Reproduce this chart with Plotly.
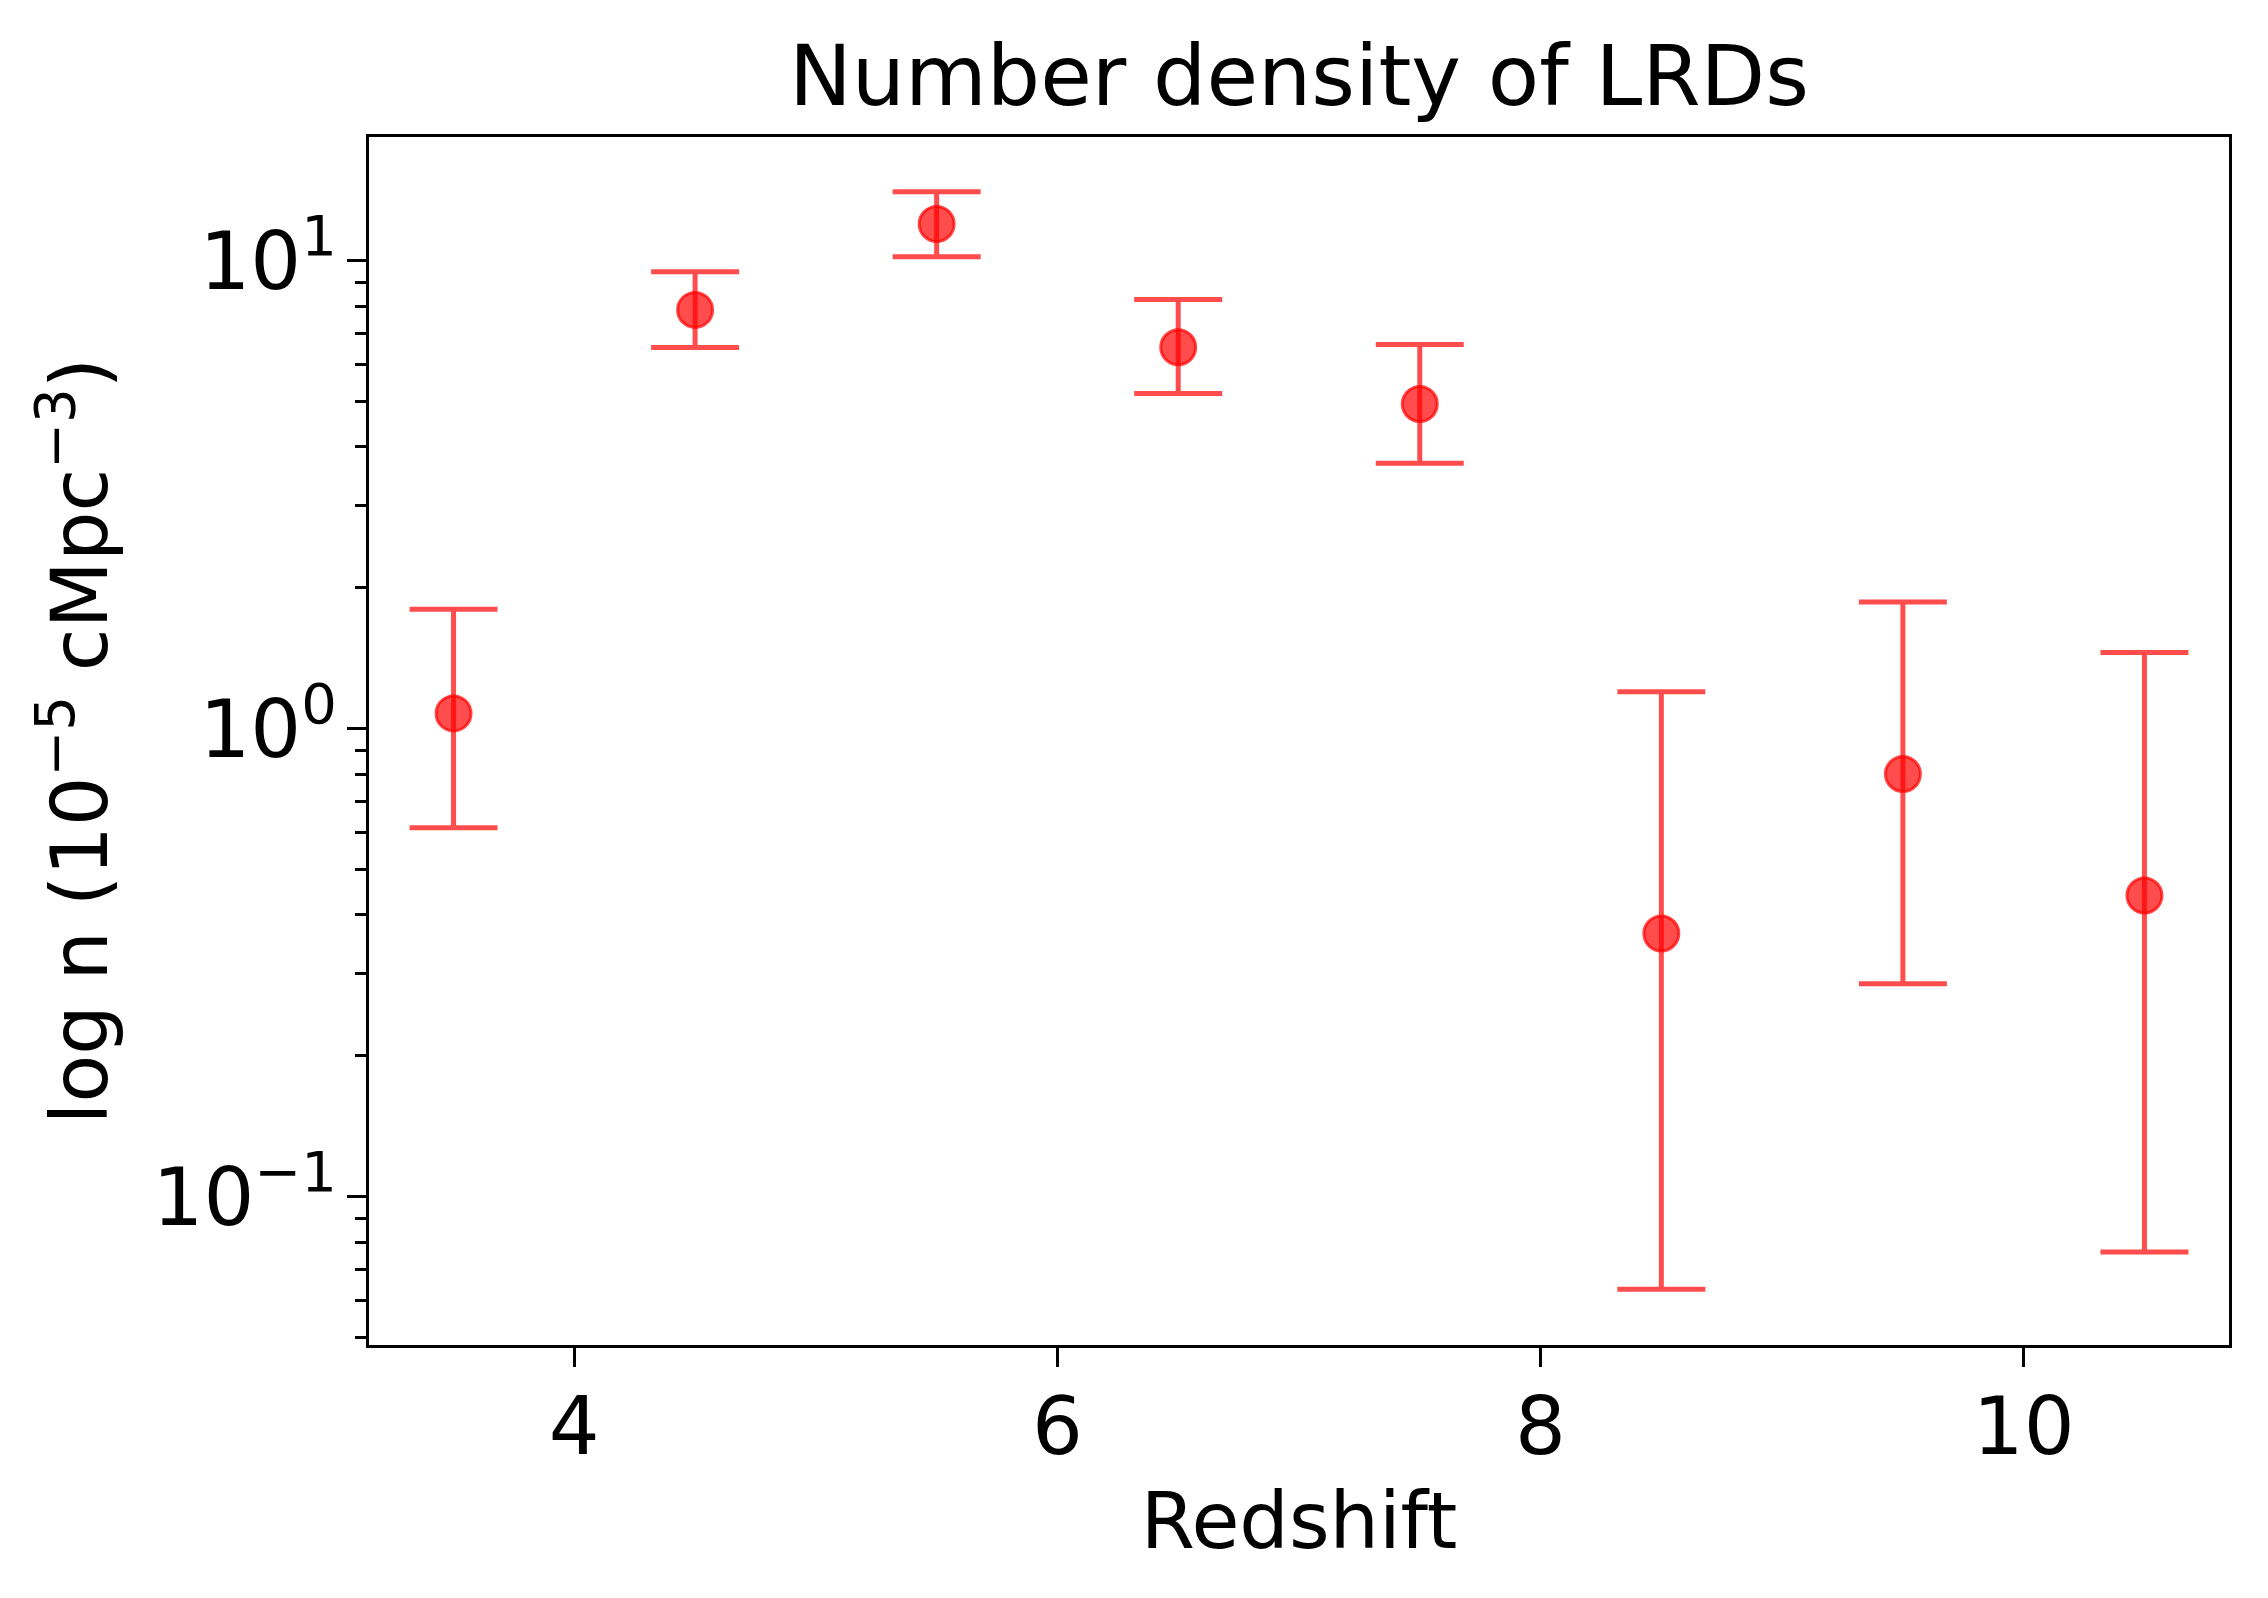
import plotly.graph_objects as go

# Data
redshift = [3.5, 4.5, 5.5, 6.5, 7.5, 8.5, 9.5, 10.5]
density = [1.078, 7.85, 11.98, 6.53, 4.94, 0.365, 0.80, 0.44]
upper = [1.80, 9.47, 14.04, 8.26, 6.62, 1.199, 1.865, 1.454]
lower = [0.614, 6.52, 10.2, 5.2, 3.69, 0.0634, 0.285, 0.0762]

x_ticks = [4, 6, 8, 10]
y_ticks = [0.1, 1, 10]
y_ticktext = ["10<sup>\u22121</sup>", "10<sup>0</sup>", "10<sup>1</sup>"]

err_plus = [u - d for u, d in zip(upper, density)]
err_minus = [d - l for d, l in zip(density, lower)]

minor_vals = []
for dec in [0.01, 0.1, 1, 10]:
    for k in range(2, 10):
        minor_vals.append(round(k * dec, 4))

red = "rgba(255,0,0,0.7)"
font_family = "DejaVu Sans"

fig = go.Figure()
fig.add_trace(go.Scatter(
    x=redshift, y=density, mode="markers",
    marker=dict(size=35, color=red, line=dict(color=red, width=3)),
    error_y=dict(type="data", symmetric=False, array=err_plus, arrayminus=err_minus,
                 color=red, thickness=5, width=44),
    showlegend=False,
))

fig.update_layout(
    width=2268, height=1598,
    paper_bgcolor="white", plot_bgcolor="white",
    margin=dict(l=361, r=47, t=129, b=261),
    font=dict(family=font_family, color="black", size=80),
    title=dict(text="Number density of LRDs", x=0.5, xref="paper", xanchor="center",
               y=1, yref="paper", yanchor="bottom", pad=dict(b=32),
               font=dict(size=84, family=font_family, color="black")),
)

fig.update_xaxes(
    range=[3.15, 10.85], tickvals=x_ticks, ticktext=[str(v) for v in x_ticks],
    showgrid=False, zeroline=False,
    showline=True, linecolor="black", linewidth=3.3, mirror=True,
    ticks="outside", ticklen=19, tickwidth=3, tickcolor="black",
    ticklabelstandoff=-9,
    tickfont=dict(size=80, family=font_family, color="black"),
    title=dict(text="Redshift", font=dict(size=78, family=font_family, color="black"), standoff=22),
)

fig.update_yaxes(
    type="log", range=[-1.3169, 1.2643], tickvals=y_ticks, ticktext=y_ticktext,
    showgrid=False, zeroline=False,
    showline=True, linecolor="black", linewidth=3.3, mirror=True,
    ticks="outside", ticklen=19, tickwidth=3, tickcolor="black",
    ticklabelstandoff=-6,
    tickfont=dict(size=80, family=font_family, color="black"),
    minor=dict(tickvals=minor_vals, ticks="outside", ticklen=11, tickwidth=2.5, tickcolor="black", showgrid=False),
    title=dict(text="log n (10<sup>\u22125</sup> cMpc<sup>\u22123</sup>)",
               font=dict(size=78, family=font_family, color="black"), standoff=20),
)

fig.write_html("out.html")
